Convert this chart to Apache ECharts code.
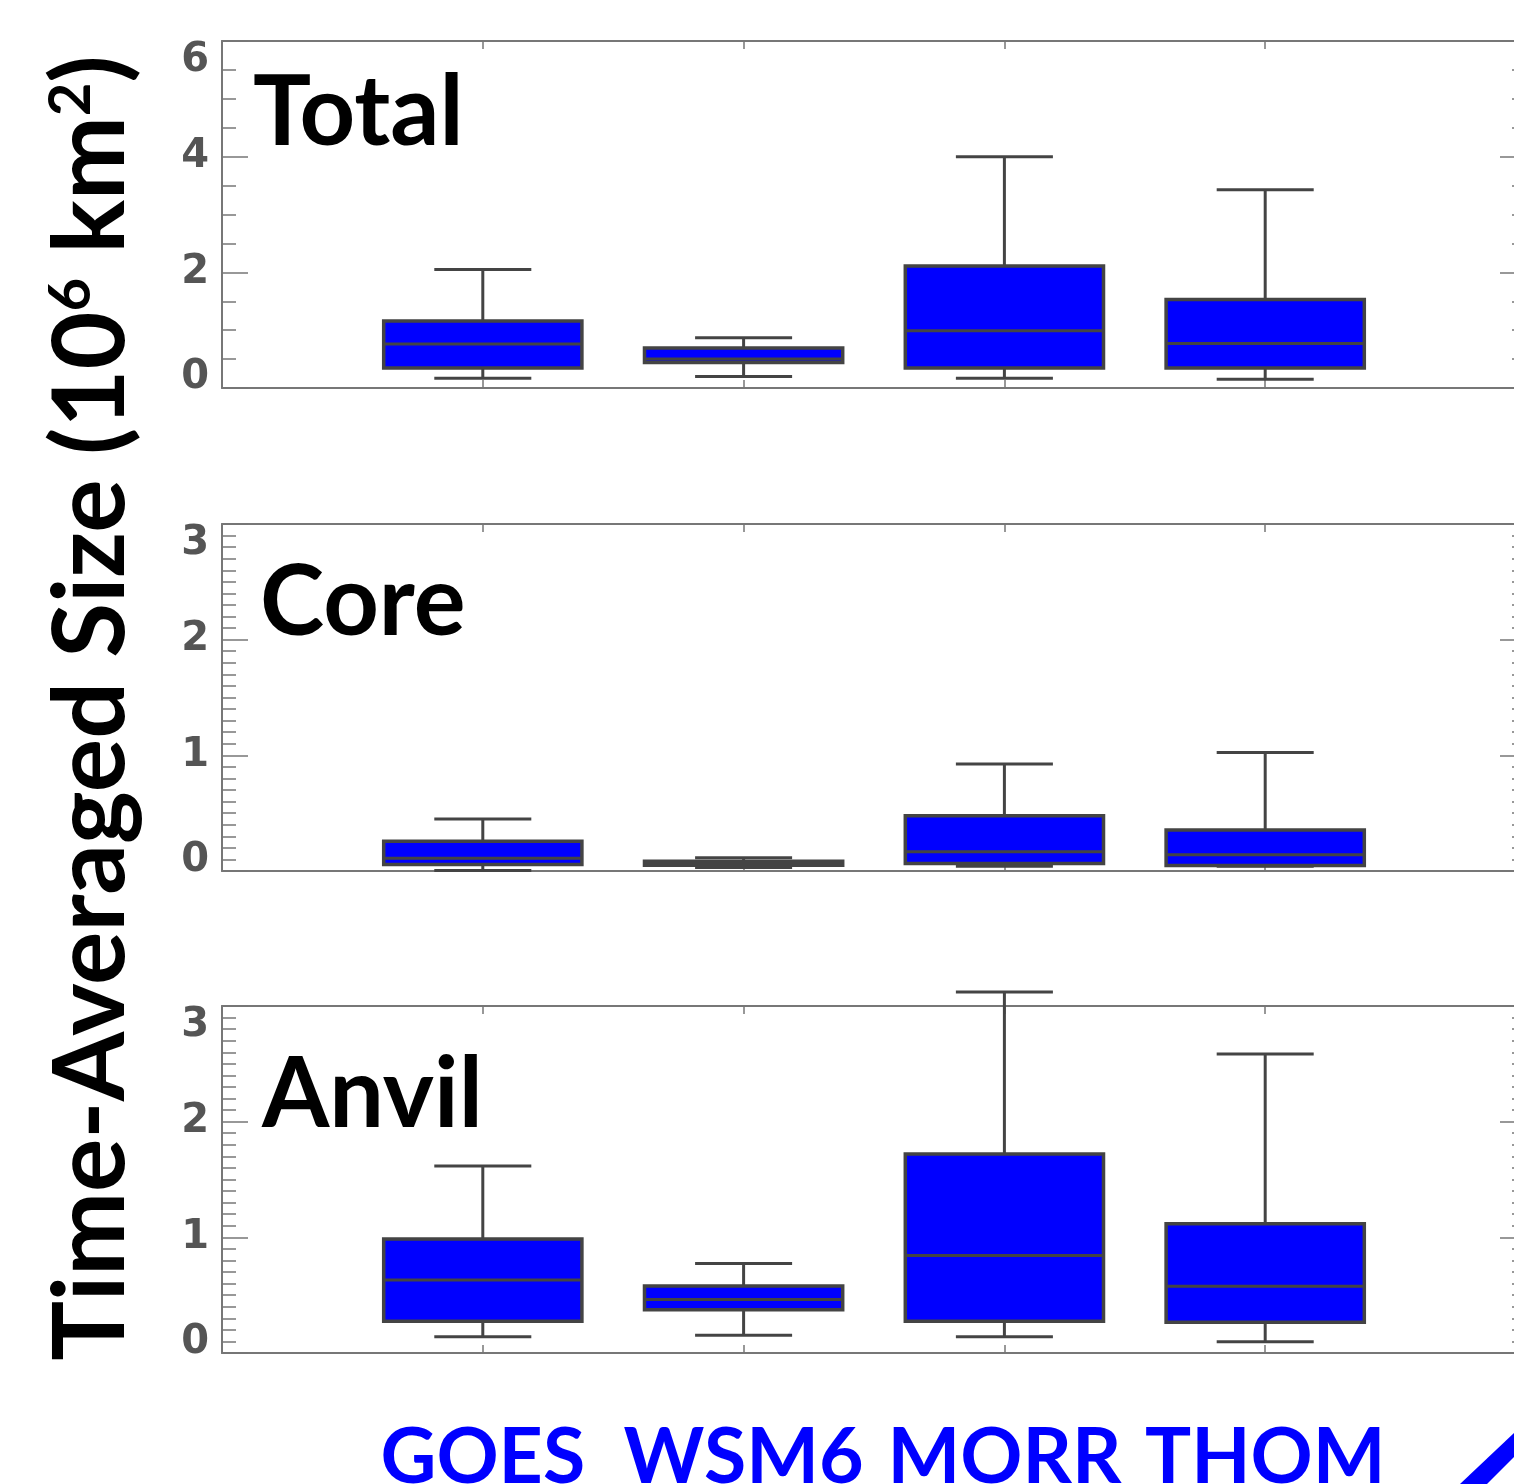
<!DOCTYPE html>
<html>
<head>
<meta charset="utf-8">
<script src="https://cdn.jsdelivr.net/npm/echarts@6/dist/echarts.min.js"></script>
<style>
html, body { margin: 0; padding: 0; background: #fff; }
#container { width: 1514px; height: 1484px; }
</style>
</head>
<body>
<div id="container"></div>
<script>
var categories = ['GOES', 'WSM6', 'MORR', 'THOM'];
var panelNames = ['Total', 'Core', 'Anvil'];

// each row: [low whisker, q1, median, q3, high whisker]  (10^6 km^2)
var totalBoxes = [
    [0.17, 0.345, 0.76, 1.16, 2.05],
    [0.20, 0.44, 0.50, 0.69, 0.87],
    [0.17, 0.345, 0.99, 2.11, 4.00],
    [0.15, 0.345, 0.77, 1.53, 3.43]
];
var coreBoxes = [
    [0.005, 0.056, 0.11, 0.257, 0.45],
    [0.03, 0.05, 0.07, 0.085, 0.115],
    [0.04, 0.065, 0.166, 0.478, 0.924],
    [0.04, 0.047, 0.14, 0.355, 1.024]
];
var anvilBoxes = [
    [0.14, 0.275, 0.632, 0.986, 1.617],
    [0.154, 0.373, 0.462, 0.58, 0.773],
    [0.14, 0.275, 0.842, 1.72, 3.12],
    [0.097, 0.266, 0.577, 1.118, 2.586]
];

var yMax = [6, 3, 3];
var yStep = [2, 1, 1];
var yMinorSplit = [4, 10, 10];

(function () {
    var dom = document.getElementById('container');
    var myChart = echarts.init(dom);

    var panels = [totalBoxes, coreBoxes, anvilBoxes];
    var gridTops = [41, 524, 1006];
    var frameColor = '#777';

    function renderBox(params, api) {
        var x = api.value(0);
        var band = api.size([1, 0])[0];
        var half = band * 0.38;
        var capHalf = band * 0.186;
        var cx = api.coord([x, 0])[0];
        var yLow = api.coord([x, api.value(1)])[1];
        var yQ1 = api.coord([x, api.value(2)])[1];
        var yMed = api.coord([x, api.value(3)])[1];
        var yQ3 = api.coord([x, api.value(4)])[1];
        var yHigh = api.coord([x, api.value(5)])[1];
        var ln = { stroke: '#444', lineWidth: 3 };
        return {
            type: 'group',
            children: [
                { type: 'line', shape: { x1: cx, y1: yQ3, x2: cx, y2: yHigh }, style: ln },
                { type: 'line', shape: { x1: cx, y1: yQ1, x2: cx, y2: yLow }, style: ln },
                { type: 'line', shape: { x1: cx - capHalf, y1: yHigh, x2: cx + capHalf, y2: yHigh }, style: ln },
                { type: 'line', shape: { x1: cx - capHalf, y1: yLow, x2: cx + capHalf, y2: yLow }, style: ln },
                { type: 'rect', shape: { x: cx - half, y: yQ3, width: half * 2, height: yQ1 - yQ3 },
                  style: { fill: '#0000ff', stroke: '#444', lineWidth: 3.5 } },
                { type: 'line', shape: { x1: cx - half, y1: yMed, x2: cx + half, y2: yMed }, style: ln }
            ]
        };
    }

    var grids = [], xAxes = [], yAxes = [], series = [];
    for (var i = 0; i < 3; i++) {
        grids.push({ left: 222, width: 1304, top: gridTops[i], height: 347, outerBoundsMode: 'none', containLabel: false });
        var isLast = i === 2;
        xAxes.push({
            type: 'value', gridIndex: i, position: 'bottom', min: 0, max: 5, interval: 1,
            axisLine: { onZero: false, lineStyle: { color: frameColor, width: 2 } },
            axisTick: { inside: true, length: 8, lineStyle: { color: frameColor, width: 1.5 } },
            splitLine: { show: false },
            axisLabel: {
                show: isLast, margin: 67, color: '#0000ff',
                fontFamily: 'Lato', fontWeight: 'bold', fontSize: 77,
                formatter: function (v) { return categories[v - 1] || ''; }
            }
        });
        xAxes.push({
            type: 'value', gridIndex: i, position: 'top', min: 0, max: 5, interval: 1,
            axisLine: { onZero: false, lineStyle: { color: frameColor, width: 2 } },
            axisTick: { inside: true, length: 8, lineStyle: { color: frameColor, width: 1.5 } },
            splitLine: { show: false },
            axisLabel: { show: false }
        });
        var yCommon = {
            type: 'value', gridIndex: i, min: 0, max: yMax[i], interval: yStep[i],
            axisLine: { show: true, onZero: false, lineStyle: { color: frameColor, width: 2 } },
            axisTick: { show: true, inside: true, length: 26, lineStyle: { color: frameColor, width: 1.5 } },
            minorTick: { show: true, splitNumber: yMinorSplit[i], length: 14, lineStyle: { color: frameColor, width: 1.5 } },
            splitLine: { show: false },
            minorSplitLine: { show: false }
        };
        yAxes.push(Object.assign({}, yCommon, {
            position: 'left',
            axisLabel: {
                color: '#555', fontFamily: 'DejaVu Sans', fontWeight: 'bold', fontSize: 40,
                lineHeight: 20, padding: [10, 0, 0, 0], margin: 13,
                verticalAlignMinLabel: 'bottom', verticalAlignMaxLabel: 'top'
            }
        }));
        yAxes.push(Object.assign({}, yCommon, {
            position: 'right',
            axisLabel: { show: false }
        }));

        var data = panels[i].map(function (row, k) {
            return [k + 1].concat(row);
        });
        series.push({
            type: 'custom',
            xAxisIndex: i * 2,
            yAxisIndex: i * 2,
            clip: false,
            renderItem: renderBox,
            encode: { x: 0, y: [1, 2, 3, 4, 5] },
            data: data
        });
    }

    var panelLabelX = [253, 260, 262];
    var panelLabelY = [114, 604, 1096];
    var graphics = panelNames.map(function (name, i) {
        return {
            type: 'text', x: panelLabelX[i], y: panelLabelY[i],
            style: {
                text: name, fill: '#000', font: 'bold 97px Lato',
                align: 'left', verticalAlign: 'middle'
            }
        };
    });
    graphics.push({
        type: 'text', x: 92, y: 708, rotation: Math.PI / 2,
        style: {
            text: '{a|Time-Averaged Size (10}{s|6}{a| km}{s|2}{a|)}',
            align: 'center', verticalAlign: 'middle',
            rich: {
                a: { fontSize: 100, fontFamily: 'Lato', fontWeight: 'bold', fill: '#000' },
                s: { fontSize: 58, fontFamily: 'Lato', fontWeight: 'bold', fill: '#000', verticalAlign: 'top' }
            }
        }
    });
    graphics.push({
        type: 'polygon',
        shape: { points: [[1460, 1484], [1514, 1433], [1514, 1457], [1487, 1484]] },
        style: { fill: '#0000ff' }
    });

    var option = {
        animation: false,
        backgroundColor: '#fff',
        grid: grids,
        xAxis: xAxes,
        yAxis: yAxes,
        series: series,
        graphic: graphics
    };
    myChart.setOption(option);
}());
</script>
</body>
</html>
